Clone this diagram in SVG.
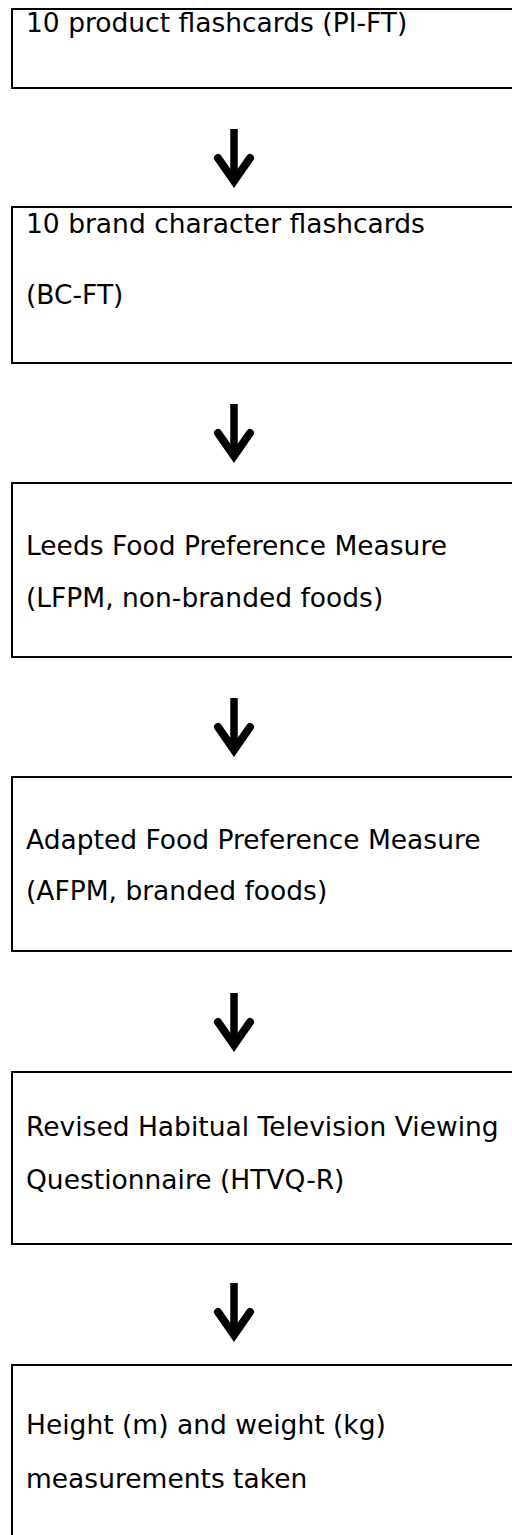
<svg xmlns="http://www.w3.org/2000/svg" width="512" height="1535" viewBox="0 0 512 1535">
  <style>
    .box { fill: none; stroke: #000; stroke-width: 2; }
    .label { font-family: "DejaVu Sans", "Liberation Sans", sans-serif; font-size: 26.5px; fill: #000; }
    .shaft { stroke: #000; stroke-width: 7.5; fill: none; }
    .head { stroke: #000; stroke-width: 8; fill: none; stroke-linecap: round; stroke-linejoin: miter; stroke-miterlimit: 10; }
  </style>
  <defs>
    <!-- downward arrow, origin at shaft top, tip about 59px below -->
    <g id="down-arrow">
      <line class="shaft" x1="0" y1="0" x2="0" y2="50"/>
      <polyline class="head" points="-16,29 0,52 16,29"/>
    </g>
  </defs>

  <rect width="512" height="1535" fill="#fff"/>

  <g id="node-pi-ft">
    <rect class="box" x="12" y="9" width="520" height="79"/>
    <text class="label" x="26" y="32">10 product flashcards (PI-FT)</text>
  </g>

  <g id="node-bc-ft">
    <rect class="box" x="12" y="207" width="520" height="156"/>
    <text class="label" x="26" y="233">10 brand character flashcards</text>
    <text class="label" x="26" y="304">(BC-FT)</text>
  </g>

  <g id="node-lfpm">
    <rect class="box" x="12" y="483" width="520" height="174"/>
    <text class="label" x="26" y="555">Leeds Food Preference Measure</text>
    <text class="label" x="26" y="607">(LFPM, non-branded foods)</text>
  </g>

  <g id="node-afpm">
    <rect class="box" x="12" y="777" width="520" height="174"/>
    <text class="label" x="26" y="849">Adapted Food Preference Measure</text>
    <text class="label" x="26" y="900">(AFPM, branded foods)</text>
  </g>

  <g id="node-htvq-r">
    <rect class="box" x="12" y="1072" width="520" height="172"/>
    <text class="label" x="26" y="1136">Revised Habitual Television Viewing</text>
    <text class="label" x="26" y="1189">Questionnaire (HTVQ-R)</text>
  </g>

  <g id="node-anthropometry">
    <rect class="box" x="12" y="1365" width="520" height="200"/>
    <text class="label" x="26" y="1434">Height (m) and weight (kg)</text>
    <text class="label" x="26" y="1488">measurements taken</text>
  </g>

  <g id="connectors">
    <use href="#down-arrow" x="234" y="129"/>
    <use href="#down-arrow" x="234" y="404"/>
    <use href="#down-arrow" x="234" y="698"/>
    <use href="#down-arrow" x="234" y="993"/>
    <use href="#down-arrow" x="234" y="1283"/>
  </g>
</svg>
